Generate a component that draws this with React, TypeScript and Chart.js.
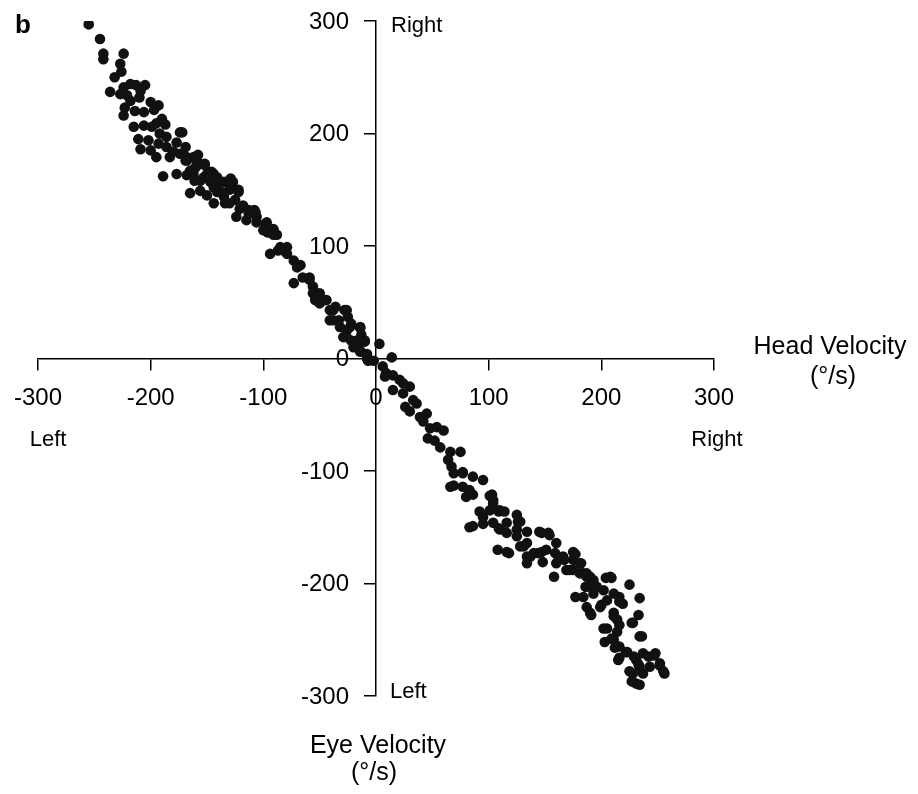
import React, { useEffect, useRef } from 'react';
import { Chart, registerables } from 'chart.js';
Chart.register(...registerables);

// Head velocity (°/s), x values of the points
const headVelocity = [
  -255, -245, -242, -242, -224, -227, -226, -232, -236,
  -224, -218, -213, -205, -209,
  -227, -221, -218, -210, -200, -193,
  -223, -214, -206, -197, -190,
  -224, -215, -206, -199, -195, -187,
  -211, -202, -192, -186, -174,
  -209, -200, -193, -186, -177,
  -195, -183, -174, -168, -158, -152, -160,
  -189, -177, -165, -144, -129,
  -172, -169, -169, -162, -159, -152, -146,
  -165,
  -168, -161, -153, -147, -141, -135, -127,
  -156, -150, -141, -135, -130, -122,
  -144, -134, -125, -118, -113, -108,
  -124, -115, -106, -98, -91, -88,
  -96, -85, -79,
  -180, -168, -156, -150, -141, -144, -137, -130, -156, -162,
  -128, -122, -130, -121, -113, -107, -106, -97, -100, -91,
  -94, -87, -79, -73, -67,
  -82, -70, -73, -65, -59, -56,
  -53, -50, -44, -41, -36, -28,
  -41, -33, -32, -26, -22, -14, -13,
  -29, -22, -17, -14, -10, -8, -7, 3, 14,
  -25, -26,
  -59, -56, -50, -54, -45, -38, -38, -23, -14, -26, -17, -10, -20, -14, -8,
  -2, 6, 9, 8, 15, 21, 24, 30, 15, 24,
  26, 33, 36, 45, 30, 39, 42,
  48, 54, 60, 46, 52, 57, 66, 75,
  64, 67, 77, 86, 95, 69, 77, 83, 86, 103,
  69, 77, 80, 66,
  101, 104, 110, 125, 128, 116, 104, 86,
  92, 110, 116, 108, 116, 128, 134, 134, 125,
  134, 140, 147, 147, 154, 160, 148,
  160, 166, 175, 175, 169, 158,
  181, 187, 190, 193, 184, 204, 211, 216, 219,
  177, 187, 190, 199, 211, 214, 205, 214, 203,
  225, 234, 233, 228, 236, 231,
  211, 216, 222, 237, 247, 252, 255, 243, 234, 228, 231, 215,
  209, 83,
  104, 101, 95, 95, 109, 114, 126,
  109, 125, 145, 153, 118,
  131, 137, 134, 144, 151, 159, 162, 177,
  172, 181, 187, 193, 208,
  167, 182, 175,
  184, 190, 193, 186, 196, 202,
  191, 200, 205, 216,
  202, 211, 216, 227, 234,
  209, 212, 216, 223, 229, 233, 242, 248, 252, 256, 225, 227, 234, 237,
];

// Eye velocity (°/s), y values of the points
const eyeVelocity = [
  297, 284, 271, 266, 271, 262, 255, 250, 237,
  241, 244, 243, 243, 238,
  235, 234, 229, 232, 228, 225,
  223, 220, 219, 221, 213,
  216, 206, 207, 206, 209, 208,
  195, 194, 200, 197, 201,
  186, 185, 191, 188, 192,
  179, 179, 182, 176, 181, 173, 170,
  162, 164, 167, 164, 160,
  201, 188, 176, 179, 173, 172, 166,
  147,
  163, 158, 161, 157, 155, 157, 157,
  149, 145, 148, 144, 150, 150,
  138, 138, 141, 136, 132, 132,
  126, 123, 126, 120, 115, 110,
  112, 99, 99,
  184, 179, 173, 164, 161, 152, 148, 154, 158, 164,
  155, 148, 138, 133, 129, 130, 121, 121, 114, 110,
  93, 96, 93, 87, 83,
  96, 81, 67, 72, 70, 64,
  58, 49, 52, 43, 46, 43,
  34, 34, 28, 25, 31, 28, 21,
  19, 16, 10, 6, 16, 4, -2, 13, 1,
  37, 43,
  72, 58, 58, 52, 52, 43, 34, 28, 27, 19, 16, 15, 10, 7, 0,
  -2, -7, -13, -16, -15, -19, -22, -25, -28, -31,
  -43, -37, -40, -49, -47, -52, -56,
  -62, -61, -64, -71, -73, -79, -83, -83,
  -90, -96, -102, -105, -108, -113, -114, -117, -121, -121,
  -102, -101, -123, -114,
  -122, -129, -135, -139, -145, -146, -146, -149,
  -136, -152, -155, -170, -172, -167, -164, -154, -152,
  -176, -173, -172, -155, -157, -164, -181,
  -182, -176, -172, -179, -188, -194,
  -191, -194, -203, -209, -212, -195, -209, -212, -218,
  -212, -221, -226, -221, -226, -232, -240, -243, -252,
  -201, -213, -228, -235, -247, -268,
  -250, -256, -261, -262, -264, -271, -278, -274, -274, -280, -289, -268,
  -195, -150,
  -126, -135, -141, -147, -136, -136, -145,
  -151, -158, -154, -155, -173,
  -167, -176, -182, -173, -170, -173, -179, -174,
  -188, -182, -191, -197, -194,
  -179, -182, -188,
  -191, -194, -200, -203, -203, -206,
  -228, -219, -215, -216,
  -240, -229, -237, -235, -247,
  -249, -257, -266, -261, -265, -272, -265, -262, -273, -280, -278, -287, -290, -280,
];

const axisMin = -300;
const axisMax = 300;
const tickStep = 100;

const FONT = "'Liberation Sans', Arial, Helvetica, sans-serif";
const TICK_LEN = 11;

const textPlugin = {
  id: 'axisTexts',
  afterDraw(chart: any) {
    const { ctx, scales } = chart;
    const x = scales.x;
    const y = scales.y;
    const x0 = x.getPixelForValue(0);
    const y0 = y.getPixelForValue(0);
    const xl = x.getPixelForValue(axisMin);
    const xr = x.getPixelForValue(axisMax);
    const yt = y.getPixelForValue(axisMax);
    const yb = y.getPixelForValue(axisMin);
    ctx.save();
    ctx.fillStyle = '#000';
    // y-axis tick labels, to the left of the centred y axis
    ctx.font = `24px ${FONT}`;
    ctx.textAlign = 'right';
    ctx.textBaseline = 'middle';
    y.ticks.forEach((t: any) => {
      ctx.fillText(String(t.value), x0 - TICK_LEN - 16, y.getPixelForValue(t.value) + 1);
    });
    ctx.textBaseline = 'alphabetic';
    ctx.font = `22px ${FONT}`;
    ctx.textAlign = 'left';
    ctx.fillText('Right', x0 + 15, yt + 11);
    ctx.fillText('Left', x0 + 14, yb + 2);
    ctx.textAlign = 'center';
    ctx.fillText('Left', xl + 10, y0 + 87);
    ctx.fillText('Right', xr + 3, y0 + 87);
    ctx.font = `25px ${FONT}`;
    ctx.fillText('Head Velocity', xr + 116, y0 - 5);
    ctx.fillText('(°/s)', xr + 119, y0 + 25);
    ctx.fillText('Eye Velocity', x0 + 2, yb + 57);
    ctx.fillText('(°/s)', x0 - 2, yb + 84);
    ctx.font = `bold 26px ${FONT}`;
    ctx.textAlign = 'left';
    ctx.fillText('b', 15, 33);
    ctx.restore();
  },
};

export default function App() {
  const ref = useRef<HTMLCanvasElement | null>(null);
  useEffect(() => {
    if (!ref.current) return;
    const points = headVelocity.map((v, i) => ({ x: v, y: eyeVelocity[i] }));
    const axisCommon = {
      type: 'linear' as const,
      min: axisMin,
      max: axisMax,
      border: { display: true, color: '#000', width: 1.5 },
      grid: {
        display: true,
        drawOnChartArea: false,
        drawTicks: true,
        tickLength: TICK_LEN,
        color: '#000',
        lineWidth: 1.5,
      },
    };
    const chart = new Chart(ref.current, {
      type: 'scatter',
      data: {
        datasets: [
          {
            data: points,
            backgroundColor: '#111',
            borderWidth: 0,
            pointRadius: 5.3,
            pointHoverRadius: 5.3,
          },
        ],
      },
      plugins: [textPlugin],
      options: {
        responsive: false,
        animation: false,
        events: [],
        layout: { padding: { left: 38, right: 204, top: 21, bottom: 98 } },
        plugins: { legend: { display: false }, tooltip: { enabled: false } },
        scales: {
          x: {
            ...axisCommon,
            position: { y: 0 },
            ticks: {
              stepSize: tickStep,
              color: '#000',
              font: { family: FONT, size: 24 },
              padding: 14,
              maxRotation: 0,
              autoSkip: false,
            },
          },
          y: {
            ...axisCommon,
            position: { x: 0 },
            ticks: {
              stepSize: tickStep,
              display: false,
              autoSkip: false,
            },
          },
        },
      } as any,
    });
    return () => chart.destroy();
  }, []);
  return (
    <div style={{ position: 'fixed', left: 0, top: 0, width: 918, height: 794, background: '#fff' }}>
      <canvas ref={ref} width={918} height={794} style={{ display: 'block' }} />
    </div>
  );
}
